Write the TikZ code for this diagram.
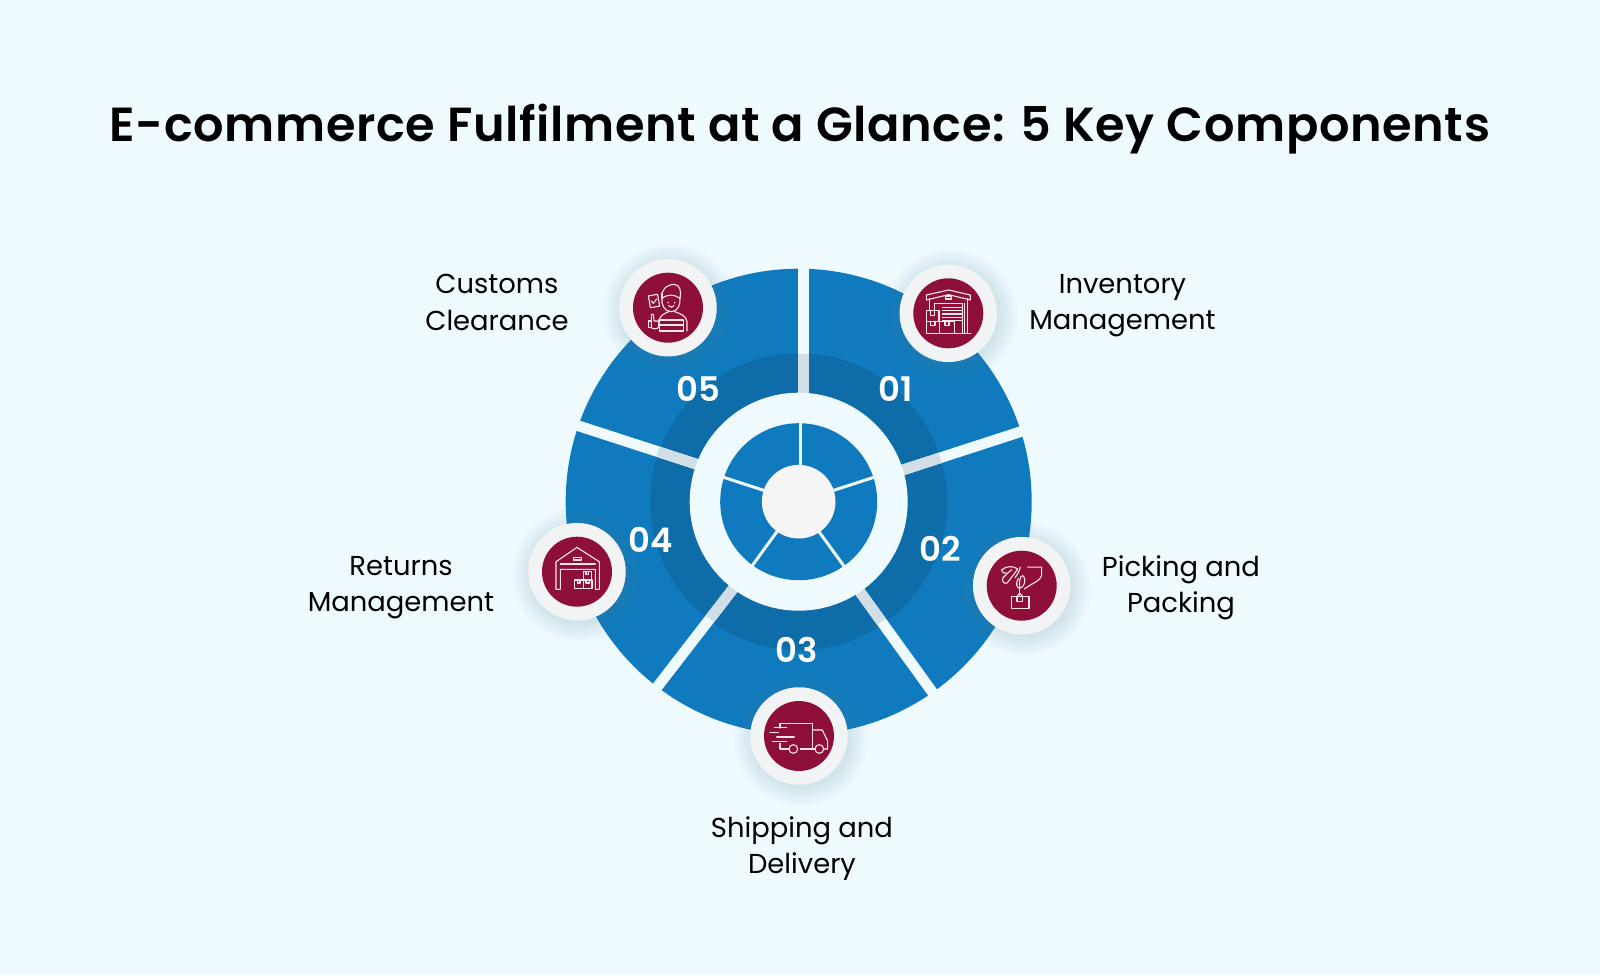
\documentclass[tikz,border=0pt]{standalone}
\usepackage{fontspec}
\setmainfont[BoldFont={Poppins SemiBold}]{Poppins}
\definecolor{pagebg}{HTML}{EFFAFF}
\definecolor{wheelblue}{HTML}{0F7ABE}
\definecolor{ringblue}{HTML}{0E6DA9}
\definecolor{gapgrey}{HTML}{D2DEE5}
\definecolor{hubgrey}{HTML}{F5F5F5}
\definecolor{badgegrey}{HTML}{F2F3F5}
\definecolor{wine}{HTML}{8E1038}
\definecolor{shadowblue}{HTML}{5E8FB0}
\definecolor{iconline}{HTML}{F8E8EC}
\tikzset{
  titlebox/.style={font=\fontsize{48}{50}\selectfont\bfseries\addfontfeatures{LetterSpace=1.3},text=black},
  numbox/.style={font=\fontsize{34}{36}\selectfont\bfseries,text=white},
  labelbox/.style={font=\fontsize{27.5}{36.7}\selectfont,text=black,align=center},
  badgeout/.style={circle,fill=badgegrey,minimum size=97.5bp,inner sep=0pt},
  badgein/.style={circle,fill=wine,minimum size=70bp,inner sep=0pt},
  iconpen/.style={draw=iconline,line width=1.1bp,line join=round,line cap=round},
}
\begin{document}
\begin{tikzpicture}[x=1bp,y=1bp]
\useasboundingbox[fill=pagebg] (-798.7,-473.3) rectangle (801.3,501.7);
% wheel
\fill[wheelblue] (0,0) circle (233);
\fill[ringblue] (0,0) circle (148.5);
\foreach \a/\dx/\dy in {90/5/0,18/0.6/-1.9,-54.2/-3.7/0,-127.7/1.7/0,162/0/4.3} {
  \begin{scope}[shift={(\dx,\dy)}]
    \draw[pagebg,line width=10.7bp] (\a:100) -- (\a:245);
    \draw[gapgrey,line width=10.7bp] (\a:100) -- (\a:148);
  \end{scope}
}
\fill[pagebg] (0,0) circle (109);
\fill[wheelblue] (0,0) circle (78.5);
\foreach \a/\dx in {90/1.3,18/0,-54/-1.5,-126/0,162/0} {
  \draw[pagebg,line width=3bp] (\dx,0) ++(\a:30) -- ++(\a:55);
}
\fill[hubgrey] (0,0) circle (36.8);
% badges with soft shadow
\foreach \x/\y/\name in {149.6/188.4/b01,223/-84/b02,0.3/-234.3/b03,-221.7/-70/b04,-130.7/194/b05} {
  \foreach \r in {49,51,...,67} {
    \fill[shadowblue,opacity=0.018] (\x+2,\y-3) circle (\r);
  }
  \node[badgeout] (\name out) at (\x,\y) {};
  \node[badgein] (\name) at (\x,\y) {};
}
% numbers
\node[numbox] (n01) at (97.3,112.7) {01};
\node[numbox] (n02) at (141.3,-47.3) {02};
\node[numbox] (n03) at (-1.7,-148.3) {03};
\node[numbox] (n04) at (-147.7,-38.3) {04};
\node[numbox] (n05) at (-100.7,112.7) {05};
% labels
\node[titlebox] (title) at (1.3,372.7) {E-commerce Fulfilment at a Glance: 5 Key Components};
\node[labelbox] (l01) at (323.8,196.2) {Inventory\\Management};
\node[labelbox] (l02) at (382.3,-86) {Picking and\\Packing};
\node[labelbox] (l03) at (3.3,-347) {Shipping and\\Delivery};
\node[labelbox] (l04) at (-397.7,-86) {Returns\\Management};
\node[labelbox] (l05) at (-301.7,199.2) {Customs\\Clearance};
% warehouse with boxes
\begin{scope}[shift={(b01)},x=0.333bp,y=-0.333bp,iconpen]
  \draw (-66,-40) -- (-66,-55) -- (1,-70) -- (66,-55) -- (66,-40) -- (1,-56) -- cycle;
  \draw (-56,-44) -- (-56,-8);
  \draw (58,-44) -- (58,60);
  \draw (48,-30) -- (48,60);
  \draw (-42,-8) -- (-42,-30) -- (42,-30) -- (42,60);
  \draw (20,60) -- (68,60);
  \draw (-8,-52) rectangle (10,-43);
  \foreach \y in {-18,-8,2,12,22} {
    \draw (-18,\y) -- (42,\y);
  }
  \draw (-66,-8) rectangle (-28,24);
  \draw (-66,24) rectangle (-26,60);
  \draw (-26,24) rectangle (18,60);
  \draw (-54,-8) -- (-54,6) -- (-42,6) -- (-42,-8);
  \draw (-54,24) -- (-54,36) -- (-40,36) -- (-40,24);
  \draw (-10,24) -- (-10,36) -- (2,36) -- (2,24);
\end{scope}
% hand holding a parcel
\begin{scope}[shift={(b02)},x=0.333bp,y=-0.333bp,iconpen]
  \draw (18,-56) -- (60,-56) -- (60,-30) .. controls (55,-14) and (35,-10) .. (8,10);
  \draw (-60,-48) .. controls (-45,-60) and (-25,-60) .. (-12,-50) .. controls (-22,-35) and (-35,-20) .. (-44,-8) .. controls (-52,-4) and (-62,-14) .. (-56,-24) .. controls (-48,-32) and (-38,-42) .. (-30,-48);
  \draw (-60,-48) .. controls (-58,-38) and (-52,-36) .. (-46,-38);
  \draw (-4,-56) .. controls (-8,-40) and (-16,-30) .. (-20,-24);
  \draw (-10,-22) .. controls (-20,-8) and (-14,8) .. (-6,8) .. controls (8,6) and (16,-22) .. (4,-30) .. controls (-6,-32) and (-8,-10) .. (-6,8);
  \draw (-6,8) -- (-6,28);
  \draw (-30,32) rectangle (22,68);
  \draw (-14,32) -- (-14,48) -- (2,48) -- (2,32);
  \draw (-14,32) -- (-6,22) -- (2,32);
\end{scope}
% delivery truck
\begin{scope}[shift={(b03)},x=0.333bp,y=-0.333bp,iconpen]
  \draw (-57,-24) -- (-57,-38) -- (40,-38) -- (40,39) -- (4,39);
  \draw (40,-18) -- (70,-18) -- (86,15) -- (86,39) -- (74,39);
  \draw (48,39) -- (40,39);
  \draw (-57,22) -- (-57,39) -- (-30,39);
  \draw (-17,39) circle (13);
  \draw (61,39) circle (13);
  \draw (-74,-25) -- (-37,-25);
  \draw (-87,-11) -- (-62,-11);
  \draw (-67,3) -- (-14,3);
  \draw (-80,17) -- (-37,17);
\end{scope}
% open warehouse
\begin{scope}[shift={(b04)},x=0.333bp,y=-0.333bp,iconpen]
  \draw (-63,53) -- (-63,-30) -- (0,-73) -- (67,-30) -- (67,53) -- (55,53) -- (55,-7) -- (-50,-7) -- (-50,53) -- cycle;
  \draw (-50,-23) -- (55,-23);
  \draw (-11,-43) rectangle (13,-35);
  \draw (19,0) rectangle (43,25);
  \draw (-7,25) rectangle (19,50);
  \draw (19,25) rectangle (45,50);
  \draw (27,0) -- (27,9) -- (35,9) -- (35,0);
  \draw (1,25) -- (1,34) -- (9,34) -- (9,25);
  \draw (27,25) -- (27,34) -- (37,34) -- (37,25);
\end{scope}
% agent with clipboard
\begin{scope}[shift={(b05)},x=0.333bp,y=-0.333bp,iconpen]
  \draw (-18,-30) .. controls (-22,-10) and (-10,12) .. (10,12) .. controls (30,12) and (38,-10) .. (36,-30);
  \draw (-18,-28) .. controls (-24,-50) and (-5,-70) .. (20,-70) .. controls (38,-68) and (40,-45) .. (36,-28) .. controls (20,-40) and (0,-42) .. (-18,-28);
  \draw (-18,-28) -- (-18,-42);
  \draw (0,-15) circle (1);
  \draw (20,-15) circle (1);
  \draw (2,-6) .. controls (6,0) and (14,0) .. (18,-6);
  \draw (-28,38) .. controls (-22,22) and (-8,16) .. (2,12);
  \draw (20,12) .. controls (38,18) and (54,24) .. (57,42) -- (57,70);
  \draw (-26,37) rectangle (46,70);
  \draw (-26,52) -- (46,52);
  \draw[rotate around={10:(-42,-20)}] (-56,-38) rectangle (-28,-2);
  \draw (-50,-20) -- (-44,-13) -- (-34,-26);
  \draw (-50,40) -- (-50,20) -- (-44,20) -- (-42,40) -- (-28,40) -- (-28,58) .. controls (-32,66) and (-46,64) .. (-50,60) -- cycle;
  \draw (-58,40) rectangle (-50,60);
\end{scope}
\end{tikzpicture}
\end{document}
